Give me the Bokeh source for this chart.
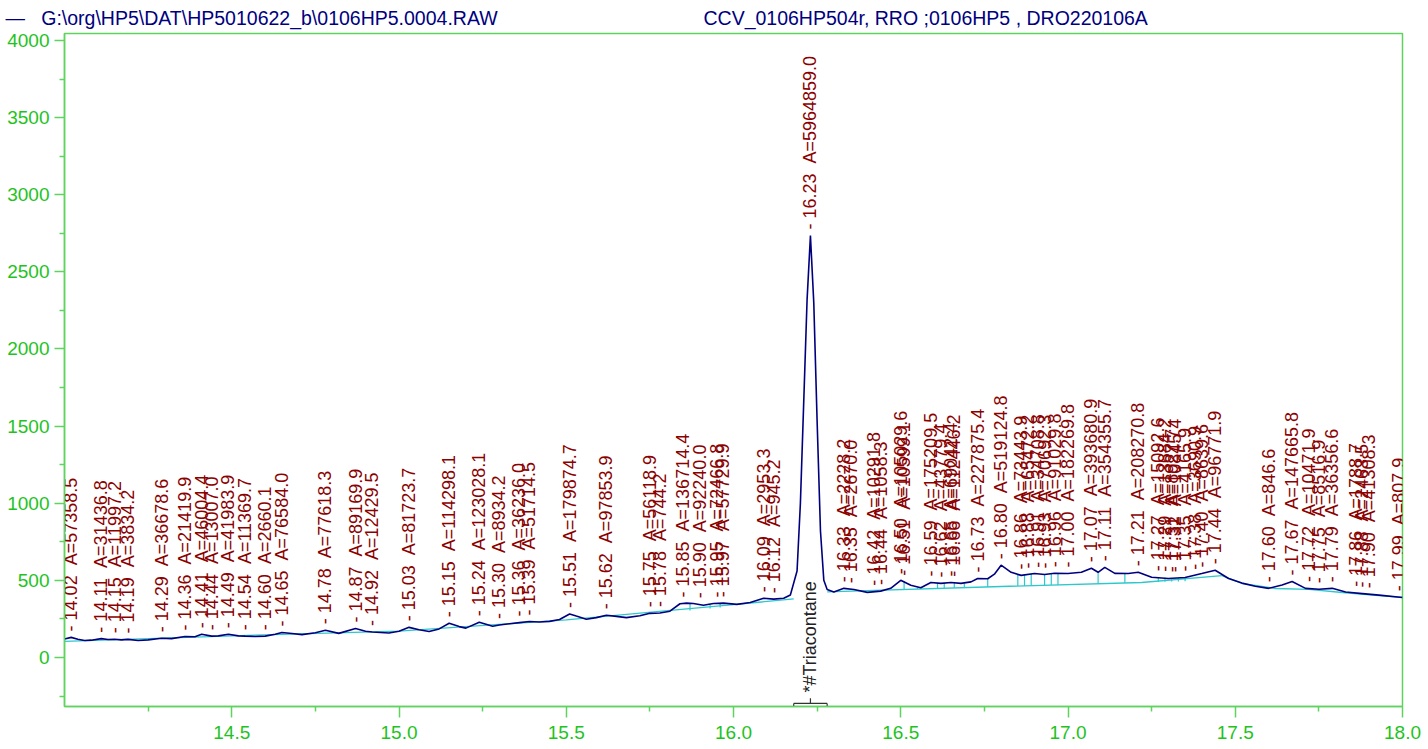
import numpy as np
from bokeh.plotting import figure
from bokeh.models import Range1d, FixedTicker, Title, ColumnDataSource, PrintfTickFormatter
from bokeh.core.properties import value
from bokeh.embed import file_html
from bokeh.resources import INLINE

# ---------------- data ----------------
header_file = "G:\\org\\HP5\\DAT\\HP5010622_b\\0106HP5.0004.RAW"
header_info = "CCV_0106HP504r, RRO ;0106HP5 , DRO220106A"

sig_rt = [14.00, 14.02, 14.04, 14.06, 14.08, 14.11, 14.13, 14.15, 14.17, 14.19, 14.22, 14.25, 14.29, 14.32,
          14.36, 14.39, 14.41, 14.44, 14.46, 14.49, 14.52, 14.54, 14.57, 14.60, 14.63, 14.65, 14.68, 14.71,
          14.75, 14.78, 14.82, 14.87, 14.90, 14.92, 14.97, 15.00, 15.03, 15.06, 15.09, 15.12, 15.15, 15.18,
          15.20, 15.24, 15.28, 15.30, 15.33, 15.36, 15.39, 15.42, 15.45, 15.48, 15.51, 15.53, 15.56, 15.59,
          15.62, 15.65, 15.68, 15.72, 15.75, 15.78, 15.81, 15.84, 15.86, 15.88, 15.91, 15.94, 15.97, 16.01,
          16.05, 16.09, 16.12, 16.15, 16.17, 16.19, 16.20, 16.21, 16.22, 16.23, 16.24, 16.25, 16.26, 16.27,
          16.28, 16.30, 16.33, 16.36, 16.40, 16.44, 16.47, 16.50, 16.53, 16.56, 16.59, 16.62, 16.65, 16.68,
          16.71, 16.73, 16.76, 16.78, 16.80, 16.83, 16.86, 16.90, 16.93, 16.96, 17.00, 17.04, 17.07, 17.09,
          17.11, 17.14, 17.18, 17.21, 17.25, 17.30, 17.35, 17.40, 17.44, 17.48, 17.52, 17.56, 17.60, 17.64,
          17.67, 17.71, 17.75, 17.79, 17.83, 17.88, 17.93, 18.00]
sig_val = [120, 130, 118, 110, 112, 122, 116, 118, 114, 117, 110, 114, 124, 122,
           136, 134, 150, 138, 140, 150, 140, 138, 136, 138, 150, 162, 155, 148,
           160, 176, 156, 188, 170, 165, 158, 170, 195, 180, 168, 185, 222, 200,
           190, 228, 202, 210, 218, 226, 233, 230, 234, 246, 282, 268, 248, 258,
           274, 266, 258, 270, 286, 288, 300, 348, 352, 350, 338, 350, 352, 344,
           356, 384, 378, 384, 405, 560, 1000, 1660, 2320, 2735, 2300, 1530, 820, 500,
           440, 425, 448, 440, 422, 430, 448, 500, 468, 452, 486, 480, 486, 480,
           490, 512, 510, 540, 598, 552, 532, 544, 538, 546, 544, 552, 578, 552,
           584, 545, 544, 552, 520, 512, 518, 544, 565, 512, 482, 462, 448, 470,
           492, 448, 442, 448, 424, 414, 404, 389]

base1_rt = [14.00, 14.65, 15.00, 15.50, 16.00, 16.18]
base1_val = [104, 150, 170, 244, 342, 380]
base2_rt = [16.28, 16.80, 17.22, 17.46]
base2_val = [425, 460, 486, 530]
base3_rt = [17.46, 17.52, 17.62, 17.72, 17.82, 17.92, 18.00]
base3_val = [530, 480, 447, 441, 421, 402, 389]

drop_rt = [15.87, 15.93, 15.96, 16.51, 16.55, 16.61, 16.63, 16.66, 16.69, 16.76, 16.85, 16.87,
           16.89, 16.93, 16.95, 16.97, 17.09, 17.17, 17.27, 17.29, 17.31, 17.33, 17.35]
drop_top = [350, 344, 350, 496, 454, 482, 483, 486, 479, 510, 536, 538,
            542, 538, 544, 545, 552, 546, 520, 516, 513, 514, 518]
drop_bot = [305, 318, 324, 442, 444, 448, 449, 451, 452, 457, 463, 464,
            466, 468, 469, 470, 478, 483, 489, 490, 492, 493, 494]

peak_rt = [14.02, 14.11, 14.15, 14.19, 14.29, 14.36, 14.41, 14.44, 14.49, 14.54, 14.60, 14.65,
           14.78, 14.87, 14.92, 15.03, 15.15, 15.24, 15.30, 15.36, 15.39, 15.51, 15.62, 15.75,
           15.78, 15.85, 15.90, 15.95, 15.97, 16.09, 16.12, 16.23, 16.33, 16.35, 16.42, 16.44,
           16.50, 16.51, 16.59, 16.62, 16.65, 16.66, 16.73, 16.80, 16.86, 16.88, 16.91, 16.93,
           16.96, 17.00, 17.07, 17.11, 17.21, 17.27, 17.29, 17.31, 17.32, 17.35, 17.38, 17.40,
           17.44, 17.60, 17.67, 17.72, 17.75, 17.79, 17.86, 17.88, 17.90, 17.99]
peak_area = ["57358.5", "31436.8", "11997.2", "3834.2", "36678.6", "21419.9", "46004.4", "13007.0",
             "41983.9", "11369.7", "2660.1", "76584.0", "77618.3", "89169.9", "12429.5", "81723.7",
             "114298.1", "123028.1", "8934.2", "36236.0", "51714.5", "179874.7", "97853.9", "56118.9",
             "744.2", "136714.4", "92240.0", "72466.8", "57729.9", "2953.3", "945.2", "5964859.0",
             "2228.2", "2670.0", "10291.8", "1058.3", "105029.6", "10599.1", "175209.5", "43779.4",
             "69042.4", "112446.2", "227875.4", "519124.8", "73443.9", "65472.2", "34708.8", "70692.3",
             "91029.8", "182269.8", "393680.9", "354355.7", "208270.8", "15092.6", "13684.2", "8927.7",
             "10845.4", "4165.9", "3690.9", "8639.6", "96771.9", "846.6", "147665.8", "10471.9",
             "8516.9", "36356.6", "1788.7", "2463.5", "41308.3", "807.9"]
peak_height = [130, 122, 118, 117, 124, 136, 150, 138, 150, 138, 138, 162,
               176, 188, 165, 195, 222, 228, 210, 226, 233, 282, 274, 286,
               288, 350, 345, 350, 352, 384, 378, 2735, 448, 442, 426, 430,
               500, 490, 486, 480, 486, 484, 512, 598, 532, 538, 542, 538,
               546, 544, 578, 584, 552, 520, 516, 513, 513, 518, 530, 544,
               565, 448, 492, 450, 442, 448, 420, 414, 410, 390]

ist_name = "*#Triacontane"
ist_rt = 16.23
ist_bracket = [16.18, 16.28]

x_major = [14.5, 15.0, 15.5, 16.0, 16.5, 17.0, 17.5, 18.0]
x_minor = [14.25, 14.75, 15.25, 15.75, 16.25, 16.75, 17.25, 17.75]
y_major = [0, 500, 1000, 1500, 2000, 2500, 3000, 3500, 4000]
y_minor = [-250, 250, 750, 1250, 1750, 2250, 2750, 3250, 3750]

# ---------------- style ----------------
FONT = "Liberation Sans"
NAVY = "#00007f"
CYAN = "#2ec8cc"
RED = "#8b0000"
GREEN_LINE = "#5fd35f"
GREEN_TXT = "#1ec31e"
NB = "\u00a0"

XMIN, XMAX = 14.0, 18.0
YMIN, YMAX = -318, 4045

header_text = "—" + NB * 3 + header_file + NB * 38 + header_info
title = Title(text=header_text, align="left", offset=-59, standoff=9, text_color=NAVY,
              text_font=FONT, text_font_size="19.5px", text_font_style="normal",
              vertical_align="bottom")

p = figure(width=1428, height=749, output_backend="svg", toolbar_location=None,
           x_range=Range1d(XMIN, XMAX), y_range=Range1d(YMIN, YMAX), title=title,
           min_border_left=64, min_border_right=26, min_border_top=33, min_border_bottom=43)
p.grid.visible = False
p.outline_line_color = GREEN_LINE
p.outline_line_width = 1.5
p.background_fill_color = "white"
p.border_fill_color = "white"

for ax in (p.xaxis[0], p.yaxis[0]):
    ax.axis_line_color = GREEN_LINE
    ax.axis_line_width = 1.5
    ax.major_tick_line_color = GREEN_LINE
    ax.minor_tick_line_color = GREEN_LINE
    ax.major_tick_line_width = 1.5
    ax.minor_tick_line_width = 1.5
    ax.major_label_text_color = GREEN_TXT
    ax.major_label_text_font = FONT
    ax.major_label_text_font_size = "19px"
    ax.major_tick_in = 0
    ax.minor_tick_in = 0

p.xaxis.ticker = FixedTicker(ticks=x_major, minor_ticks=x_minor)
p.xaxis.formatter = PrintfTickFormatter(format="%.1f")
p.xaxis.major_tick_out = 11
p.xaxis.minor_tick_out = 5
p.xaxis.major_label_standoff = 8

p.yaxis.ticker = FixedTicker(ticks=y_major, minor_ticks=y_minor)
p.yaxis.major_tick_out = 10
p.yaxis.minor_tick_out = 5
p.yaxis.major_label_standoff = 5

# baseline
p.line(base1_rt, base1_val, line_color=CYAN, line_width=1.3)
p.line(base2_rt, base2_val, line_color=CYAN, line_width=1.3)
p.line(base3_rt, base3_val, line_color=CYAN, line_width=1.3)
p.segment(x0=drop_rt, y0=drop_bot, x1=drop_rt, y1=drop_top, line_color=CYAN, line_width=1.2)

# signal
p.line(sig_rt, sig_val, line_color=NAVY, line_width=1.6)

# peak labels (non-breaking spaces so the gaps survive in SVG)
labels = ["-" + NB + "%.2f" % r + NB + NB + "A=" + a for r, a in zip(peak_rt, peak_area)]
src = ColumnDataSource(dict(x=peak_rt, y=peak_height, t=labels))
p.text(x="x", y="y", text="t", source=src, angle=np.pi / 2, text_align="left",
       text_baseline="middle", y_offset=-6, text_color=RED,
       text_font=value(FONT), text_font_size="18px")

# internal standard annotation
p.text(x=[ist_rt], y=[-228], text=[ist_name], angle=np.pi / 2, text_align="left",
       text_baseline="middle", text_color="#222222", text_font=value(FONT), text_font_size="18px")
p.segment(x0=[ist_bracket[0], ist_bracket[0], ist_bracket[1], ist_rt],
          y0=[-298, -298, -298, -298],
          x1=[ist_bracket[1], ist_bracket[0], ist_bracket[1], ist_rt],
          y1=[-298, YMIN, YMIN, -265], line_color="#333333", line_width=1.2)

open("out.html", "w").write(file_html(p, INLINE))
